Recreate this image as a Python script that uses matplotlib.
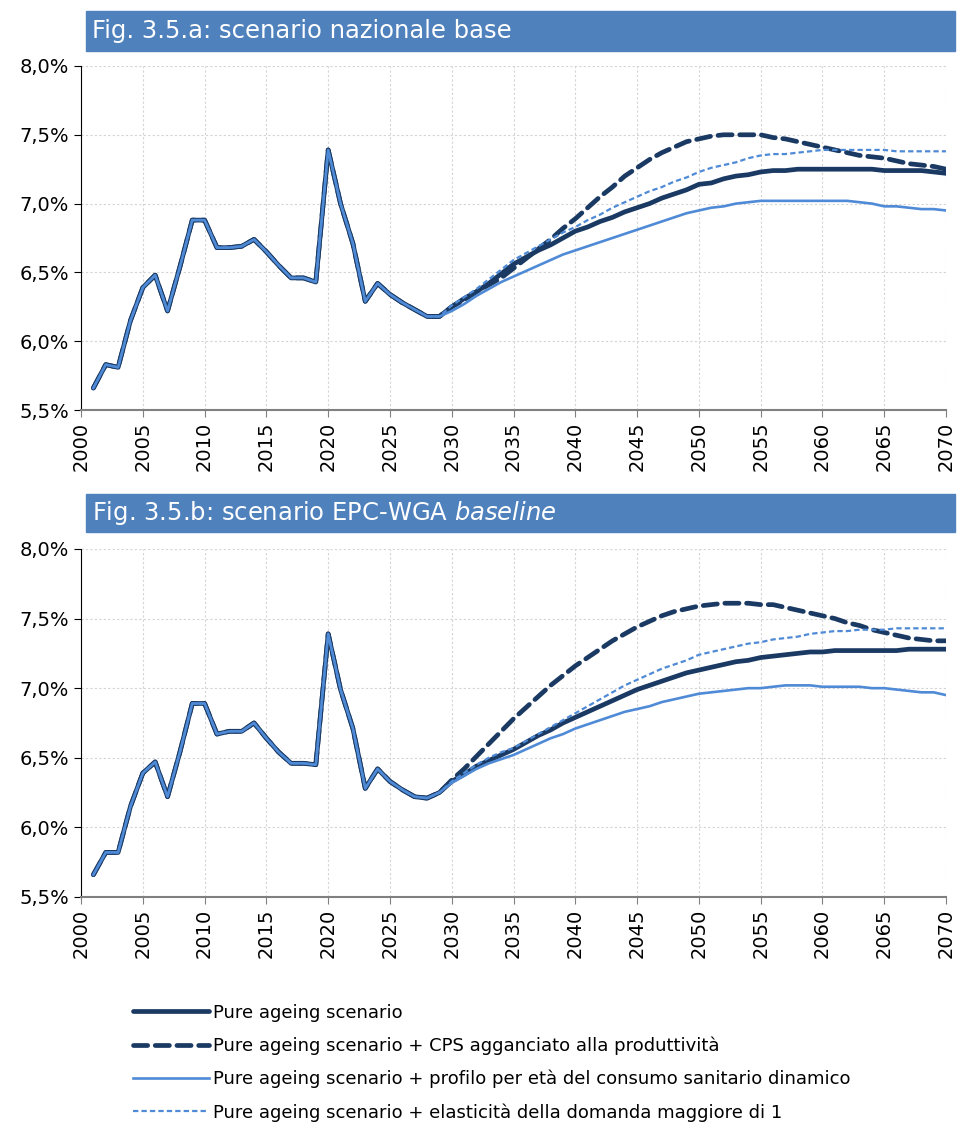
import numpy as np
import matplotlib
matplotlib.use('Agg')
import matplotlib.pyplot as plt
from matplotlib.ticker import FuncFormatter

# anni
years_hist = list(range(2001, 2030))
years_proj = list(range(2030, 2071))

# Fig. 3.5.a - storico (comune a tutte le serie)
hist_a = [5.66, 5.83, 5.81, 6.15, 6.39, 6.48, 6.22, 6.54, 6.88, 6.88,
          6.68, 6.68, 6.69, 6.74, 6.65, 6.55, 6.46, 6.46, 6.43, 7.39,
          7.00, 6.71, 6.29, 6.42, 6.34, 6.28, 6.23, 6.18, 6.18]

pure_a = [6.25, 6.31, 6.36, 6.42, 6.49, 6.56, 6.61, 6.66, 6.70, 6.75,
          6.80, 6.83, 6.87, 6.90, 6.94, 6.97, 7.00, 7.04, 7.07, 7.10,
          7.14, 7.15, 7.18, 7.20, 7.21, 7.23, 7.24, 7.24, 7.25, 7.25,
          7.25, 7.25, 7.25, 7.25, 7.25, 7.24, 7.24, 7.24, 7.24, 7.23, 7.22]
cps_a = [6.25, 6.30, 6.36, 6.41, 6.46, 6.53, 6.60, 6.67, 6.74, 6.82,
         6.89, 6.97, 7.05, 7.12, 7.20, 7.26, 7.32, 7.37, 7.41, 7.45,
         7.47, 7.49, 7.50, 7.50, 7.50, 7.50, 7.48, 7.47, 7.45, 7.43,
         7.41, 7.39, 7.37, 7.35, 7.34, 7.33, 7.31, 7.29, 7.28, 7.27, 7.25]
profilo_a = [6.22, 6.27, 6.33, 6.38, 6.43, 6.47, 6.51, 6.55, 6.59, 6.63,
             6.66, 6.69, 6.72, 6.75, 6.78, 6.81, 6.84, 6.87, 6.90, 6.93,
             6.95, 6.97, 6.98, 7.00, 7.01, 7.02, 7.02, 7.02, 7.02, 7.02,
             7.02, 7.02, 7.02, 7.01, 7.00, 6.98, 6.98, 6.97, 6.96, 6.96, 6.95]
elast_a = [6.26, 6.32, 6.38, 6.45, 6.52, 6.59, 6.64, 6.69, 6.74, 6.79,
           6.83, 6.88, 6.92, 6.97, 7.01, 7.05, 7.09, 7.12, 7.16, 7.19,
           7.23, 7.26, 7.28, 7.30, 7.33, 7.35, 7.36, 7.36, 7.37, 7.38,
           7.39, 7.39, 7.39, 7.39, 7.39, 7.39, 7.38, 7.38, 7.38, 7.38, 7.38]

# Fig. 3.5.b - storico
hist_b = [5.66, 5.82, 5.82, 6.15, 6.39, 6.47, 6.22, 6.54, 6.89, 6.89,
          6.67, 6.69, 6.69, 6.75, 6.64, 6.54, 6.46, 6.46, 6.45, 7.39,
          6.99, 6.71, 6.28, 6.42, 6.33, 6.27, 6.22, 6.21, 6.25]

pure_b = [6.33, 6.38, 6.44, 6.48, 6.52, 6.56, 6.61, 6.66, 6.70, 6.75,
          6.79, 6.83, 6.87, 6.91, 6.95, 6.99, 7.02, 7.05, 7.08, 7.11,
          7.13, 7.15, 7.17, 7.19, 7.20, 7.22, 7.23, 7.24, 7.25, 7.26,
          7.26, 7.27, 7.27, 7.27, 7.27, 7.27, 7.27, 7.28, 7.28, 7.28, 7.28]
cps_b = [6.34, 6.42, 6.51, 6.60, 6.69, 6.78, 6.86, 6.94, 7.02, 7.09,
         7.16, 7.22, 7.28, 7.34, 7.39, 7.44, 7.48, 7.52, 7.55, 7.57,
         7.59, 7.60, 7.61, 7.61, 7.61, 7.60, 7.60, 7.58, 7.56, 7.54,
         7.52, 7.50, 7.47, 7.45, 7.42, 7.40, 7.38, 7.36, 7.35, 7.34, 7.34]
profilo_b = [6.32, 6.37, 6.42, 6.46, 6.49, 6.52, 6.56, 6.60, 6.64, 6.67,
             6.71, 6.74, 6.77, 6.80, 6.83, 6.85, 6.87, 6.90, 6.92, 6.94,
             6.96, 6.97, 6.98, 6.99, 7.00, 7.00, 7.01, 7.02, 7.02, 7.02,
             7.01, 7.01, 7.01, 7.01, 7.00, 7.00, 6.99, 6.98, 6.97, 6.97, 6.95]
elast_b = [6.33, 6.39, 6.45, 6.50, 6.54, 6.57, 6.62, 6.67, 6.72, 6.77,
           6.82, 6.87, 6.92, 6.97, 7.02, 7.06, 7.10, 7.14, 7.17, 7.20,
           7.24, 7.26, 7.28, 7.30, 7.32, 7.33, 7.35, 7.36, 7.37, 7.39,
           7.40, 7.41, 7.41, 7.42, 7.42, 7.42, 7.43, 7.43, 7.43, 7.43, 7.43]

labels = ['Pure ageing scenario',
          'Pure ageing scenario + CPS agganciato alla produttività',
          'Pure ageing scenario + profilo per età del consumo sanitario dinamico',
          'Pure ageing scenario + elasticità della domanda maggiore di 1']

dark = '#1b3a63'
light = '#4f8ad6'
header = '#4f81bd'

plt.rcParams['font.family'] = ['DejaVu Sans']
fig = plt.figure(figsize=(9.59, 11.24), dpi=100)


def draw_panel(ax, hist, series):
    x = years_hist + years_proj
    pure, cps, profilo, elast = series
    ax.plot(x, hist + pure, color=dark, lw=3.4, solid_capstyle='round', label=labels[0])
    ax.plot(x, hist + cps, color=dark, lw=3.4, dashes=(3.0, 1.6), dash_capstyle='round', label=labels[1])
    ax.plot(x, hist + profilo, color=light, lw=1.9, label=labels[2])
    ax.plot(x, hist + elast, color=light, lw=1.6, dashes=(2.4, 1.4), label=labels[3])
    ax.set_xlim(2000, 2070)
    ax.set_ylim(5.5, 8.0)
    ax.set_xticks(range(2000, 2071, 5))
    ax.set_yticks(np.arange(5.5, 8.01, 0.5))
    ax.yaxis.set_major_formatter(FuncFormatter(lambda v, p: ('%.1f%%' % v).replace('.', ',')))
    ax.tick_params(axis='x', labelrotation=90, labelsize=14, length=5, color='#808080')
    ax.tick_params(axis='y', labelsize=14, length=5, color='black')
    ax.grid(True, color='#d4d4d4', linestyle=(0, (2, 2)), lw=0.8)
    ax.set_axisbelow(True)
    for s in ['top', 'right']:
        ax.spines[s].set_visible(False)
    ax.spines['left'].set_color('black')
    ax.spines['bottom'].set_color('#808080')
    ax.spines['bottom'].set_linewidth(1.5)


ax1 = fig.add_axes([0.0845, 0.6352, 0.902, 0.3061])
draw_panel(ax1, hist_a, [pure_a, cps_a, profilo_a, elast_a])
ax2 = fig.add_axes([0.0845, 0.2020, 0.902, 0.3096])
draw_panel(ax2, hist_b, [pure_b, cps_b, profilo_b, elast_b])

# barre dei titoli
fig.patches.append(plt.Rectangle((0.0897, 0.9546), 0.9062, 0.0356, transform=fig.transFigure,
                                 color=header, zorder=0))
fig.text(0.096, 0.9724, 'Fig. 3.5.a: scenario nazionale base', color='white', fontsize=17.5,
         va='center', ha='left')
fig.patches.append(plt.Rectangle((0.0897, 0.5267), 0.9062, 0.0338, transform=fig.transFigure,
                                 color=header, zorder=0))
fig.text(0.096, 0.5436, r'Fig. 3.5.b: scenario EPC-WGA $\mathit{baseline}$', color='white',
         fontsize=17.5, va='center', ha='left')

# legenda
handles, labs = ax1.get_legend_handles_labels()
fig.legend(handles, labs, loc='upper left', bbox_to_anchor=(0.122, 0.1215), frameon=False,
           fontsize=13, handlelength=4.2, handletextpad=0.2, labelspacing=0.82,
           bbox_transform=fig.transFigure)

plt.savefig('out.png', dpi=100)
